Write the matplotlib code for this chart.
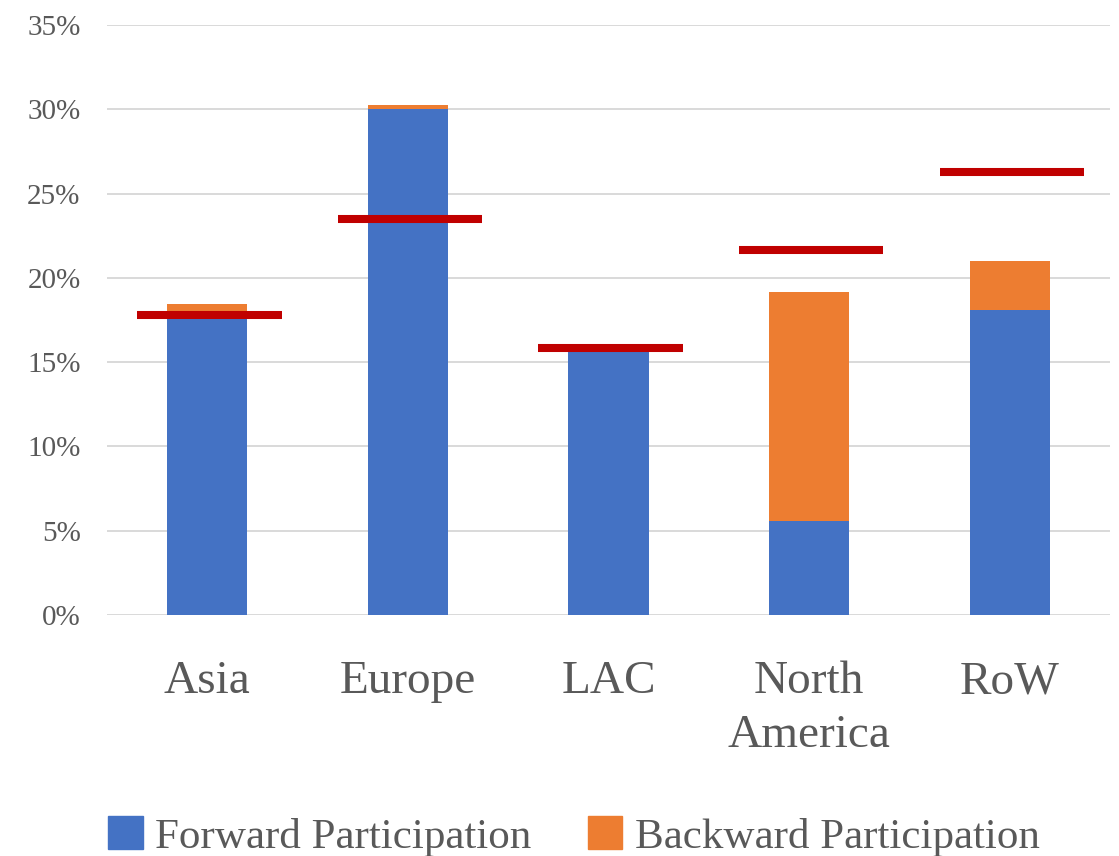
import matplotlib.pyplot as plt
from matplotlib.ticker import FuncFormatter
from matplotlib.patches import Patch
import numpy as np

regions = ["Asia", "Europe", "LAC", "North\nAmerica", "RoW"]
forward = [17.8, 30.0, 15.6, 5.58, 18.08]
backward = [0.66, 0.24, 0.0, 13.57, 2.91]
marker_level = [17.8, 23.5, 15.85, 21.63, 26.26]

BLUE = "#4472C4"
ORANGE = "#ED7D31"
RED = "#C00000"
GREY = "#595959"

plt.rcParams["font.family"] = ["Liberation Serif", "DejaVu Serif"]

fig = plt.figure(figsize=(11.19, 8.56), dpi=100)
ax = fig.add_axes([0.0956, 0.2815, 0.8964, 0.6893])

x = np.arange(len(regions))
ax.bar(x, forward, width=0.4, color=BLUE, zorder=2)
ax.bar(x, backward, width=0.4, bottom=forward, color=ORANGE, zorder=2)
ax.hlines(marker_level, x - 0.35, x + 0.37, colors=RED, linewidth=5.8, zorder=3)

ax.set_xlim(-0.5, len(regions) - 0.5)
ax.set_ylim(0, 35)
ax.set_yticks(np.arange(0, 36, 5))
ax.yaxis.set_major_formatter(FuncFormatter(lambda v, _: f"{v:.0f}%"))
ax.set_xticks(x)
ax.set_xticklabels(regions, fontsize=34, color=GREY, linespacing=1.35)
ax.tick_params(axis="y", labelsize=21, labelcolor=GREY, length=0, pad=19)
ax.tick_params(axis="x", length=0, pad=33)
ax.grid(axis="y", color="#D9D9D9", linewidth=1.4, zorder=0)
for s in ax.spines.values():
    s.set_visible(False)

handles = [Patch(color=BLUE, label="Forward Participation"),
           Patch(color=ORANGE, label="Backward Participation")]
fig.legend(handles=handles, loc="center", bbox_to_anchor=(0.513, 0.023),
           ncol=2, frameon=False, fontsize=31, labelcolor=GREY,
           handlelength=0.8, handleheight=0.8, handletextpad=0.3,
           columnspacing=1.3)

fig.savefig("out.png", dpi=100)
